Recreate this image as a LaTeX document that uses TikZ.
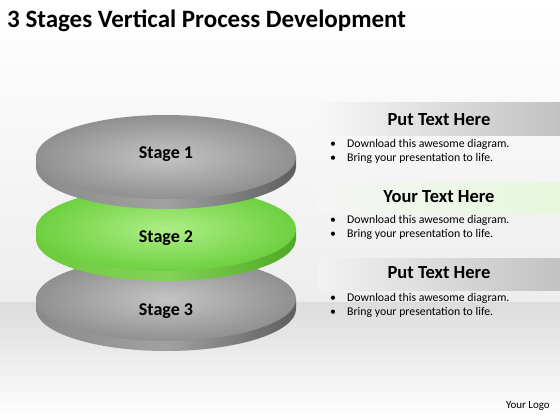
\documentclass[tikz,border=0pt]{standalone}
\usepackage{fontspec}
\setmainfont{Carlito}
\usetikzlibrary{positioning}
\definecolor{face-gray-in}{HTML}{C4C4C4}
\definecolor{face-gray-out}{HTML}{909090}
\definecolor{side-gray-l}{HTML}{8A8A8A}
\definecolor{side-gray-r}{HTML}{5E5E5E}
\definecolor{face-green-in}{HTML}{ADEE86}
\definecolor{face-green-out}{HTML}{6ED040}
\definecolor{side-green-l}{HTML}{6CCB3A}
\definecolor{side-green-r}{HTML}{4FA826}
\definecolor{band-gray}{HTML}{C2C2C2}
\definecolor{band-green}{HTML}{D6F2C4}
\definecolor{floor-gray}{HTML}{DCDCDC}
\tikzset{
    face-gray/.style = {inner color=face-gray-in, outer color=face-gray-out},
    side-gray/.style = {left color=side-gray-l, right color=side-gray-r, middle color=side-gray-l!80!white},
    face-green/.style = {inner color=face-green-in, outer color=face-green-out},
    side-green/.style = {left color=side-green-l, right color=side-green-r, middle color=side-green-l!85!white},
    stage-label/.style = {font=\fontsize{18}{20}\selectfont\bfseries, anchor=base, inner sep=0pt},
    title-text/.style = {font=\fontsize{25}{30}\selectfont\bfseries, anchor=base west, inner sep=0pt},
    band-title/.style = {font=\fontsize{18.5}{22}\selectfont\bfseries, anchor=base, inner sep=0pt},
    bullet-list/.style = {font=\fontsize{11.8}{14}\selectfont, anchor=base west, inner sep=0pt},
    logo-text/.style = {font=\fontsize{11}{12}\selectfont, anchor=base east, inner sep=0pt},
}
\newcommand{\bulletlines}{\begin{tabular}[t]{@{}p{17pt}@{}l@{}}
    \textbullet & Download this awesome diagram.\\
    \textbullet & Bring your presentation to life.
\end{tabular}}

\begin{document}
\begin{tikzpicture}[x=1pt, y=-1pt]
% background and floor
\shade[top color=white, bottom color=black!7] (0,0) rectangle (560,302);
\shade[top color=floor-gray, bottom color=white] (0,302) rectangle (560,420);
\useasboundingbox (0,0) rectangle (560,420);

\node[title-text] (title) at (7,28) {3 Stages Vertical Process Development};

% disks, from the bottom one up
\shade[side-gray] (36,299) -- (36,309) arc[start angle=180, end angle=0, x radius=130, y radius=42] -- (296,299) -- cycle;
\shade[face-gray] (166,299) ellipse [x radius=130, y radius=42];
\node[stage-label] (stage3) at (166,315) {Stage 3};

\shade[side-green] (36,229) -- (36,239) arc[start angle=180, end angle=0, x radius=130, y radius=42] -- (296,229) -- cycle;
\shade[face-green] (166,229) ellipse [x radius=130, y radius=42];
\node[stage-label] (stage2) at (166,242) {Stage 2};

\shade[side-gray] (36,157) -- (36,167) arc[start angle=180, end angle=0, x radius=130, y radius=42] -- (296,157) -- cycle;
\shade[face-gray] (166,157) ellipse [x radius=130, y radius=42];
\node[stage-label] (stage1) at (166,158) {Stage 1};

% text panels
\shade[left color=black!3, right color=band-gray] (318,103) rectangle (560,135);
\node[band-title] (head1) at (439,125) {Put Text Here};
\node[bullet-list] (list1) at (330,147) {\bulletlines};

\shade[left color=black!4, middle color=band-green, right color=band-green!60!white] (318,182) rectangle (560,213);
\node[band-title] (head2) at (439,202) {Your Text Here};
\node[bullet-list] (list2) at (330,223) {\bulletlines};

\shade[left color=black!5, right color=band-gray] (318,258) rectangle (560,290);
\node[band-title] (head3) at (439,278) {Put Text Here};
\node[bullet-list] (list3) at (330,301) {\bulletlines};

\node[logo-text] (logo) at (550,408) {Your Logo};
\end{tikzpicture}
\end{document}
